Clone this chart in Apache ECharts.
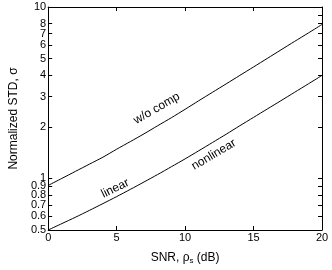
<!DOCTYPE html>
<html><head><meta charset="utf-8">
<script src="https://cdn.jsdelivr.net/npm/echarts@6/dist/echarts.min.js"></script>
<style>html,body{margin:0;padding:0;background:#fff}#c{width:332px;height:270px}</style>
</head><body><div id="c"></div>
<script>
var snr = [0,1,2,3,4,5,6,7,8,9,10,11,12,13,14,15,16,17,18,19,20];
var woComp = [0.91,1.00,1.10,1.21,1.33,1.48,1.64,1.82,2.03,2.26,2.53,2.84,3.18,3.56,3.99,4.47,5.01,5.62,6.30,7.05,7.91];
// linear and nonlinear compensation curves coincide at this scale
var compensated = [0.50,0.545,0.594,0.65,0.713,0.783,0.863,0.953,1.054,1.17,1.30,1.45,1.62,1.81,2.03,2.27,2.54,2.84,3.18,3.56,3.99];
var yTicks = [0.5,0.6,0.7,0.8,0.9,1,2,3,4,5,6,7,8,9,10];
var xTicks = [0,5,10,15,20];
var curveLabels = [
  {text:'w/o comp', x:7.93, y:2.56, rot:30},
  {text:'linear', x:4.9, y:0.874, rot:26},
  {text:'nonlinear', x:12.1, y:1.375, rot:30.5}
];

function pairs(ys){ return snr.map(function(x,i){ return [x, ys[i]]; }); }
var FONT = 'Liberation Sans';
var chart = echarts.init(document.getElementById('c'), null, {renderer:'canvas'});
var lineStyle = {color:'#000', width:1};
var yBase = {
  type:'log', logBase:10, min:0.5, max:10,
  axisLine:{show:true, onZero:false, lineStyle:{color:'#000', width:1}},
  axisTick:{show:true, inside:true, length:4, customValues:yTicks, lineStyle:{color:'#000'}},
  minorTick:{show:false}, splitLine:{show:false}
};
chart.setOption({
  animation:false,
  grid:{left:32, right:10, top:7, bottom:32, containLabel:false},
  xAxis:[{
    type:'value', min:0, max:20, interval:5,
    name:'SNR, ρ{sub|s} (dB)', nameLocation:'middle', nameGap:20,
    nameTextStyle:{fontFamily:FONT, fontSize:12, color:'#000',
      rich:{sub:{fontFamily:FONT, fontSize:8, color:'#000', padding:[7,0,0,0]}}},
    axisLine:{show:true, onZero:false, lineStyle:{color:'#000', width:1}},
    axisTick:{show:true, inside:true, length:4, lineStyle:{color:'#000'}},
    axisLabel:{fontFamily:FONT, fontSize:11, color:'#000', margin:2, customValues:xTicks,
      showMinLabel:true, showMaxLabel:true},
    splitLine:{show:false}
  },{
    type:'value', min:0, max:20, interval:5, position:'top',
    axisLine:{show:true, onZero:false, lineStyle:{color:'#000', width:1}},
    axisTick:{show:true, inside:true, length:4, lineStyle:{color:'#000'}},
    axisLabel:{show:false}, splitLine:{show:false}
  }],
  yAxis:[Object.assign({}, yBase, {
    position:'left',
    name:'Normalized STD, σ', nameLocation:'middle', nameGap:19,
    nameTextStyle:{fontFamily:FONT, fontSize:12, color:'#000'},
    axisLabel:{show:true, fontFamily:FONT, fontSize:11, color:'#000', margin:2, customValues:yTicks,
      showMinLabel:true, showMaxLabel:true, hideOverlap:false,
      formatter:function(v){ return String(+Number(v).toPrecision(3)); }}
  }), Object.assign({}, yBase, {
    position:'right', axisLabel:{show:false}
  })],
  series:[
    {name:'w/o comp', type:'line', data:pairs(woComp), showSymbol:false, smooth:0.25, lineStyle:lineStyle, z:3},
    {name:'linear / nonlinear', type:'line', data:pairs(compensated), showSymbol:false, smooth:0.25, lineStyle:lineStyle, z:3}
  ]
});
var g = curveLabels.map(function(l){
  var p = chart.convertToPixel({xAxisIndex:0, yAxisIndex:0}, [l.x, l.y]);
  return {type:'text', x:p[0], y:p[1], rotation:l.rot*Math.PI/180,
    style:{text:l.text, fontFamily:FONT, fontSize:12, fill:'#000', align:'center', verticalAlign:'middle'}};
});
chart.setOption({graphic:g});
</script></body></html>
